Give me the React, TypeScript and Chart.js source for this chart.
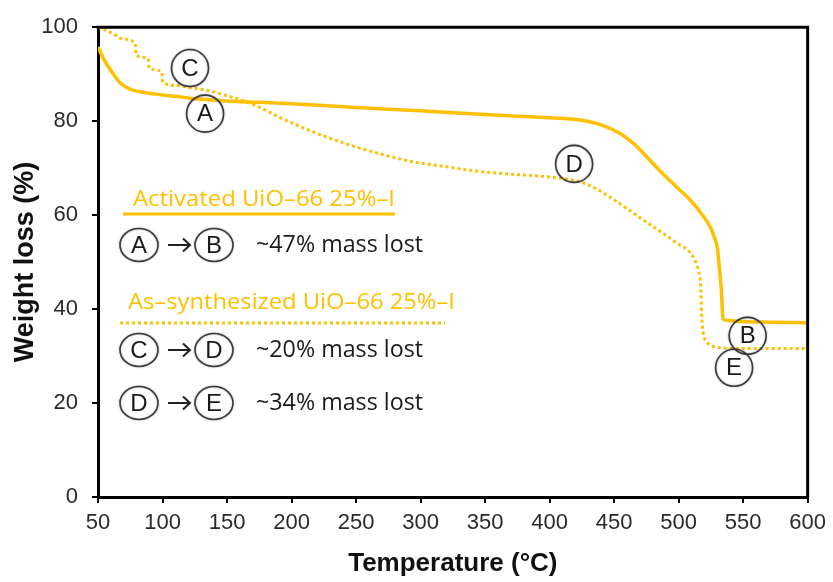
import React, { useEffect, useRef } from 'react';
import { Chart, registerables } from 'chart.js';

Chart.register(...registerables);

const ORANGE = '#FFC000';

// Activated UiO-66 25%-I (solid)
const activatedTemp = [50, 53, 57, 62, 67, 72, 77, 86, 96, 110, 121, 134, 150, 175, 200, 250, 300, 350, 400, 422, 440, 455, 466, 476, 486, 498, 510, 518, 525, 528, 530, 531.5, 533, 534.5, 537, 545, 570, 600];
const activatedWeight = [95.8, 94, 92, 90, 88.2, 87.2, 86.6, 86.1, 85.7, 85.3, 84.9, 84.6, 84.3, 84, 83.7, 82.9, 82.2, 81.4, 80.7, 80.3, 79.2, 77.3, 75, 72.2, 69.3, 66.1, 62.9, 60.2, 57.2, 55, 53, 49, 44.5, 37.9, 37.6, 37.4, 37.2, 37.1];

// As-synthesized UiO-66 25%-I (dotted)
const synthTemp = [50, 54, 62, 69, 79, 79.6, 89, 89.6, 99.5, 100.1, 111, 122, 134, 150, 165, 178, 190, 203, 216, 242, 268, 293, 320, 345, 370, 397, 422, 435, 448, 461, 474, 487, 500, 508, 513, 515.5, 517, 517.8, 519, 521, 525, 531, 550, 575, 600];
const synthWeight = [100, 99.6, 98.6, 97.5, 96.5, 94, 93.3, 91.3, 90.5, 88.3, 87.6, 87.1, 86.6, 85.4, 84.1, 82.6, 80.9, 79.3, 77.8, 75.2, 73.1, 71.4, 70.3, 69.3, 68.7, 68.2, 67.2, 65.8, 63.6, 61.2, 58.7, 56.3, 53.8, 52.3, 50.2, 48, 45.3, 39, 35, 33.3, 32.3, 31.8, 31.6, 31.6, 31.6];

// Circled point labels (data coordinates)
const markerLabels = ['A', 'B', 'C', 'D', 'E'];
const markerTemp = [133, 553.5, 121.3, 419, 543];
const markerWeight = [81.6, 34.3, 91.3, 70.9, 27.5];

// Annotation block
const seriesNames = ['Activated UiO–66 25%–I', 'As–synthesized UiO–66 25%–I'];
const stepFrom = ['A', 'C', 'D'];
const stepTo = ['B', 'D', 'E'];
const massLost = ['~47% mass lost', '~20% mass lost', '~34% mass lost'];

const xTickMin = 50;
const xTickMax = 600;
const xTickStep = 50;
const yTickMin = 0;
const yTickMax = 100;
const yTickStep = 20;

function fittedText(ctx: CanvasRenderingContext2D, text: string, x: number, cy: number, size: number, targetW: number, family: string, color: string) {
  ctx.save();
  ctx.font = `${size}px "${family}"`;
  const w = ctx.measureText(text).width;
  ctx.translate(x, cy);
  ctx.scale(targetW / w, 1);
  ctx.fillStyle = color;
  ctx.textAlign = 'left';
  ctx.textBaseline = 'middle';
  ctx.fillText(text, 0, 0);
  ctx.restore();
}

function circledLetter(ctx: CanvasRenderingContext2D, letter: string, cx: number, cy: number, rx: number, ry: number) {
  ctx.save();
  ctx.shadowColor = 'rgba(0,0,0,0.35)';
  ctx.shadowBlur = 2;
  ctx.strokeStyle = '#3a3a3a';
  ctx.lineWidth = 1.6;
  ctx.beginPath();
  ctx.ellipse(cx, cy, rx, ry, 0, 0, Math.PI * 2);
  ctx.stroke();
  ctx.restore();
  ctx.save();
  ctx.fillStyle = '#1a1a1a';
  ctx.font = '24px "Liberation Sans"';
  ctx.textAlign = 'center';
  ctx.textBaseline = 'middle';
  ctx.fillText(letter, cx, cy + 1);
  ctx.restore();
}

function arrow(ctx: CanvasRenderingContext2D, x1: number, x2: number, y: number) {
  ctx.save();
  ctx.strokeStyle = '#222';
  ctx.lineWidth = 2;
  ctx.beginPath();
  ctx.moveTo(x1, y);
  ctx.lineTo(x2, y);
  ctx.moveTo(x2 - 7, y - 6.5);
  ctx.lineTo(x2, y);
  ctx.lineTo(x2 - 7, y + 6.5);
  ctx.stroke();
  ctx.restore();
}

const decorPlugin = {
  id: 'decor',
  afterDraw(chart: any) {
    const ctx: CanvasRenderingContext2D = chart.ctx;
    const { left, right, top, bottom } = chart.chartArea;
    // frame top & right
    ctx.save();
    ctx.strokeStyle = '#000';
    ctx.lineWidth = 3;
    ctx.beginPath();
    ctx.moveTo(left - 1.5, top);
    ctx.lineTo(right, top);
    ctx.lineTo(right, bottom + 1.5);
    ctx.stroke();
    ctx.restore();

    const xs = chart.scales.x;
    const ys = chart.scales.y;
    markerLabels.forEach((l, i) => {
      circledLetter(ctx, l, xs.getPixelForValue(markerTemp[i]), ys.getPixelForValue(markerWeight[i]), 18.5, 18.5);
    });

    // annotation block
    const rowsY = [245, 350, 403];
    fittedText(ctx, seriesNames[0], 133, 200, 22, 262, 'Open Sans', ORANGE);
    ctx.save();
    ctx.strokeStyle = ORANGE;
    ctx.lineWidth = 3;
    ctx.beginPath();
    ctx.moveTo(123, 214);
    ctx.lineTo(395, 214);
    ctx.stroke();
    ctx.restore();

    fittedText(ctx, seriesNames[1], 128, 303, 22, 327, 'Open Sans', ORANGE);
    ctx.save();
    ctx.strokeStyle = ORANGE;
    ctx.lineWidth = 3;
    ctx.setLineDash([3, 3]);
    ctx.beginPath();
    ctx.moveTo(120, 323);
    ctx.lineTo(445, 323);
    ctx.stroke();
    ctx.restore();

    rowsY.forEach((y, i) => {
      circledLetter(ctx, stepFrom[i], 139, y, 19, 16.5);
      arrow(ctx, 168, 190, y);
      circledLetter(ctx, stepTo[i], 214, y, 19, 16.5);
      fittedText(ctx, massLost[i], 256, y, 23.5, 167, 'Open Sans', '#1a1a1a');
    });
  },
};

export default function App() {
  const ref = useRef<HTMLCanvasElement | null>(null);
  useEffect(() => {
    if (!ref.current) return;
    const chart = new Chart(ref.current, {
      type: 'line',
      data: {
        datasets: [
          {
            label: seriesNames[0],
            data: activatedTemp.map((t, i) => ({ x: t, y: activatedWeight[i] })),
            borderColor: ORANGE,
            borderWidth: 3.5,
            pointRadius: 0,
            cubicInterpolationMode: 'monotone',
            fill: false,
          },
          {
            label: seriesNames[1],
            data: synthTemp.map((t, i) => ({ x: t, y: synthWeight[i] })),
            borderColor: ORANGE,
            borderWidth: 3,
            borderDash: [3, 3],
            pointRadius: 0,
            cubicInterpolationMode: 'monotone',
            fill: false,
          },
        ],
      },
      options: {
        responsive: true,
        maintainAspectRatio: false,
        animation: false,
        layout: { padding: { top: 25, right: 23, left: 0, bottom: 0 } },
        plugins: { legend: { display: false }, tooltip: { enabled: false } },
        scales: {
          x: {
            type: 'linear',
            min: xTickMin,
            max: xTickMax,
            ticks: { stepSize: xTickStep, color: '#2a2a2a', font: { family: 'Liberation Sans', size: 22 }, padding: 7, maxRotation: 0, autoSkip: false },
            grid: { drawOnChartArea: false, drawTicks: true, tickLength: 6, color: '#000', lineWidth: 2 },
            border: { display: true, color: '#000', width: 3 },
            title: { display: true, text: 'Temperature (°C)', color: '#111', font: { family: 'Liberation Sans', size: 26, weight: 'bold' }, padding: { top: 0, bottom: 3 } },
            afterFit: (s: any) => { s.height = 85; },
          },
          y: {
            type: 'linear',
            min: yTickMin,
            max: yTickMax,
            ticks: { stepSize: yTickStep, color: '#2a2a2a', font: { family: 'Liberation Sans', size: 22 }, padding: 14 },
            grid: { drawOnChartArea: false, drawTicks: true, tickLength: 6, color: '#000', lineWidth: 2 },
            border: { display: true, color: '#000', width: 3 },
            title: { display: true, text: 'Weight loss (%)', color: '#111', font: { family: 'Liberation Sans', size: 27, weight: 'bold' }, padding: { top: 9, bottom: 0 } },
            afterFit: (s: any) => { s.width = 98; },
          },
        },
      },
      plugins: [decorPlugin],
    } as any);
    return () => chart.destroy();
  }, []);
  return (
    <div style={{ position: 'fixed', left: 0, top: 0, width: 833, height: 582, background: '#fff' }}>
      <canvas ref={ref} />
    </div>
  );
}
